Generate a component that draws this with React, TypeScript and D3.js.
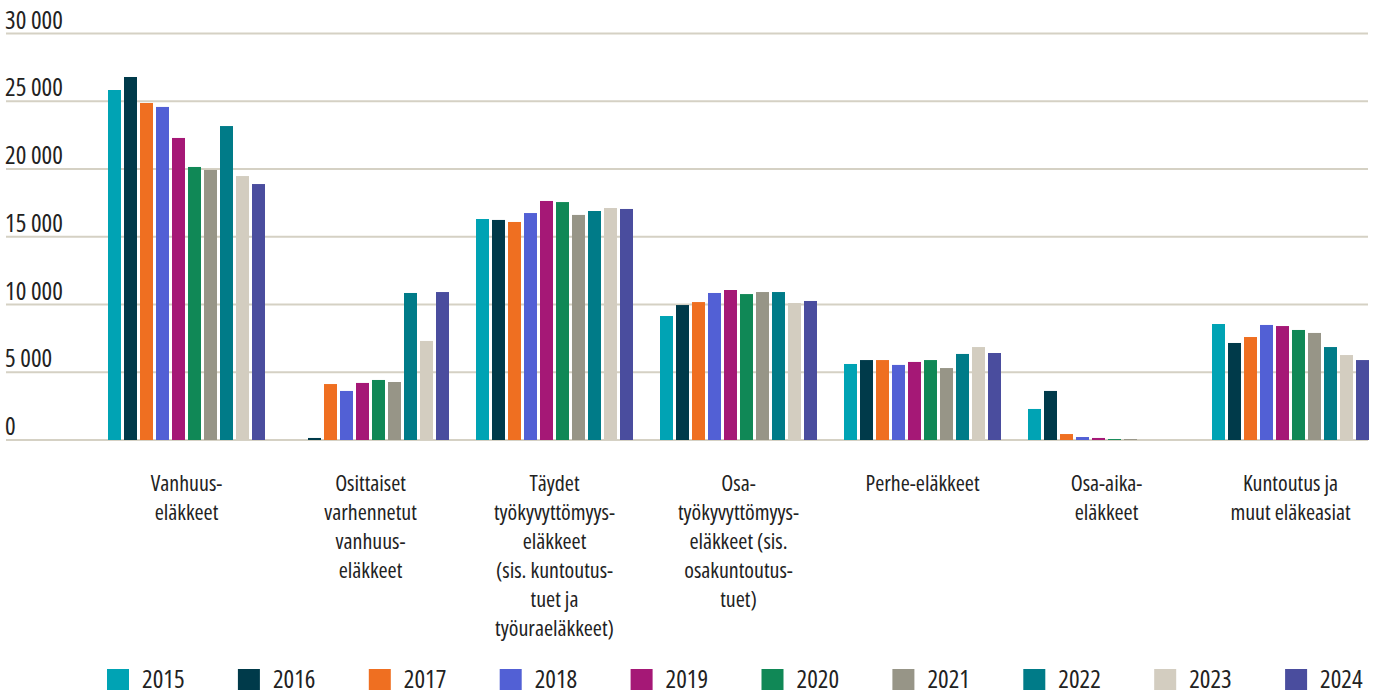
import React from "react";
import * as d3 from "d3";

const WIDTH = 1384;
const HEIGHT = 695;

const categories = [
  ["Vanhuus-", "eläkkeet"],
  ["Osittaiset", "varhennetut", "vanhuus-", "eläkkeet"],
  ["Täydet", "työkyvyttömyys-", "eläkkeet", "(sis. kuntoutus-", "tuet ja", "työuraeläkkeet)"],
  ["Osa-", "työkyvyttömyys-", "eläkkeet (sis.", "osakuntoutus-", "tuet)"],
  ["Perhe-eläkkeet"],
  ["Osa-aika-", "eläkkeet"],
  ["Kuntoutus ja", "muut eläkeasiat"],
];

const years = ["2015", "2016", "2017", "2018", "2019", "2020", "2021", "2022", "2023", "2024"];
const colors = ["#00a3b4", "#003a4a", "#ef6f21", "#5260d5", "#a51876", "#108856", "#979587", "#007b88", "#d3cdc0", "#4a4d9e"];

// one array per category, values per year 2015..2024
const vanhuus = [25830, 26790, 24870, 24580, 22290, 20150, 19930, 23170, 19480, 18890];
const osittaiset = [0, 150, 4130, 3620, 4210, 4430, 4280, 10850, 7310, 10920];
const taydet = [16310, 16240, 16090, 16750, 17640, 17560, 16610, 16900, 17120, 17050];
const osaTyokyvyttomyys = [9150, 9960, 10180, 10850, 11070, 10770, 10920, 10920, 10110, 10260];
const perhe = [5610, 5900, 5900, 5540, 5760, 5900, 5310, 6350, 6860, 6420];
const osaAika = [2290, 3620, 440, 220, 150, 70, 70, 0, 0, 0];
const kuntoutus = [8560, 7160, 7600, 8490, 8410, 8120, 7900, 6860, 6270, 5900];

const series = [vanhuus, osittaiset, taydet, osaTyokyvyttomyys, perhe, osaAika, kuntoutus];
const yTicks = [0, 5000, 10000, 15000, 20000, 25000, 30000];

const FONT = "'Open Sans', sans-serif";
const TEXT_STYLE = { fontStretch: "condensed" };

export default function App() {
  const catKeys = categories.map((c) => c.join(" "));
  const x0 = d3.scaleBand().domain(catKeys).range([94.5, 1382.5]).paddingInner(27 / 184).paddingOuter(27 / 368);
  const x1 = d3.scaleBand().domain(years).range([0, x0.bandwidth()]).paddingInner(3 / 16).paddingOuter(0);
  const y = d3.scaleLinear().domain([0, 30000]).range([440, 33.5]);
  const fmt = (v: number) => d3.format(",")(v).replace(/,/g, " ");

  return (
    <svg
      width={WIDTH}
      height={HEIGHT}
      style={{ position: "absolute", left: 0, top: 0, background: "#fff" }}
      fontFamily={FONT}
    >
      <g>
        {yTicks.map((t) => (
          <g key={t}>
            <line x1={6} x2={1368} y1={y(t)} y2={y(t)} stroke="#d5d1c4" strokeWidth={2} />
            <text x={5} y={y(t) - 5} fontSize={25} fill="#222" style={TEXT_STYLE}>
              {fmt(t)}
            </text>
          </g>
        ))}
      </g>
      <g>
        {series.map((vals, ci) => (
          <g key={ci} transform={`translate(${x0(catKeys[ci])},0)`}>
            {vals.map((v, yi) =>
              v > 0 ? (
                <rect
                  key={yi}
                  x={x1(years[yi])}
                  y={y(v)}
                  width={x1.bandwidth()}
                  height={y(0) - y(v)}
                  fill={colors[yi]}
                />
              ) : null
            )}
          </g>
        ))}
      </g>
      <g>
        {categories.map((lines, ci) => {
          const cx = (x0(catKeys[ci]) as number) + x0.bandwidth() / 2;
          return (
            <text key={ci} x={cx} y={491} textAnchor="middle" fontSize={22} fill="#222" style={TEXT_STYLE}>
              {lines.map((l, li) => (
                <tspan key={li} x={cx} dy={li === 0 ? 0 : 29}>
                  {l}
                </tspan>
              ))}
            </text>
          );
        })}
      </g>
      <g>
        {years.map((yr, i) => (
          <g key={yr} transform={`translate(${107 + i * 130.9},669)`}>
            <rect width={22} height={21} fill={colors[i]} />
            <text x={35} y={19} fontSize={25} fill="#222" style={TEXT_STYLE}>
              {yr}
            </text>
          </g>
        ))}
      </g>
    </svg>
  );
}
